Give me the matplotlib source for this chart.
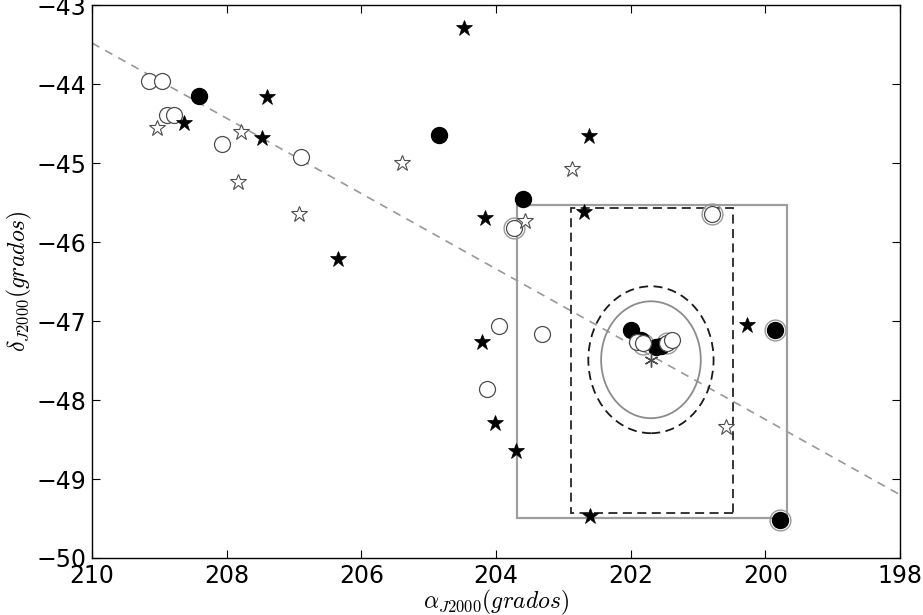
import matplotlib
matplotlib.use("Agg")
import matplotlib.pyplot as plt
from matplotlib.patches import Rectangle, Ellipse

plt.rcParams['mathtext.fontset'] = 'cm'

# Filled black circles
fc_ra = [208.41, 204.85, 203.60, 199.86, 199.78, 201.99, 201.85, 201.62, 201.55]
fc_dec = [-44.15, -44.65, -45.46, -47.11, -49.52, -47.11, -47.24, -47.33, -47.32]

# Open circles
oc_ra = [209.15, 208.96, 208.89, 208.78, 208.07, 206.90, 203.73, 200.79, 203.96, 203.32, 204.13,
         201.91, 201.82, 201.46, 201.39]
oc_dec = [-43.96, -43.96, -44.39, -44.39, -44.76, -44.92, -45.82, -45.65, -47.06, -47.16, -47.86,
          -47.27, -47.28, -47.28, -47.24]

# Gray rings (marked objects)
ring_ra = [203.73, 200.79, 199.86, 199.78, 201.82, 201.46]
ring_dec = [-45.82, -45.65, -47.11, -49.52, -47.29, -47.28]

# Filled stars
fs_ra = [204.47, 207.40, 208.63, 207.48, 202.62, 204.16, 202.69, 206.35, 204.21, 204.01, 203.70, 200.27, 202.60]
fs_dec = [-43.29, -44.16, -44.49, -44.68, -44.66, -45.70, -45.62, -46.22, -47.27, -48.29, -48.65, -47.05, -49.47]

# Open stars
os_ra = [209.03, 207.79, 207.83, 206.93, 205.40, 202.87, 203.57, 200.58]
os_dec = [-44.56, -44.61, -45.24, -45.65, -45.00, -45.08, -45.73, -48.34]

# Center marker
cen_ra = [201.70]
cen_dec = [-47.49]

# Plane line (endpoints)
line_ra = [210.0, 198.0]
line_dec = [-43.48, -49.20]

# Regions
box_ra = [203.69, 199.68]
box_dec = [-45.53, -49.49]
dbox_ra = [202.88, 200.48]
dbox_dec = [-45.57, -49.43]
circ_r = [0.74, 0.93]

fig = plt.figure(figsize=(9.23, 6.15), dpi=100)
ax = fig.add_axes([0.0997, 0.0927, 0.8755, 0.899])

ax.plot(line_ra, line_dec, color='0.6', ls=(0, (5, 4)), lw=1.2, zorder=1)

ax.add_patch(Rectangle((min(box_ra), min(box_dec)), abs(box_ra[0] - box_ra[1]),
                       abs(box_dec[0] - box_dec[1]), fill=False, ec='0.62', lw=1.6, zorder=2))
ax.add_patch(Rectangle((min(dbox_ra), min(dbox_dec)), abs(dbox_ra[0] - dbox_ra[1]),
                       abs(dbox_dec[0] - dbox_dec[1]), fill=False, ec='0.15', lw=1.3,
                       ls=(0, (5, 3)), zorder=2))
ax.add_patch(Ellipse((cen_ra[0], cen_dec[0]), 2 * circ_r[0], 2 * circ_r[0], fill=False,
                     ec='0.55', lw=1.3, zorder=2))
ax.add_patch(Ellipse((cen_ra[0], cen_dec[0]), 2 * circ_r[1], 2 * circ_r[1], fill=False,
                     ec='0.1', lw=1.3, ls=(0, (5, 3)), zorder=2))

ax.plot(ring_ra, ring_dec, 'o', ms=15, mfc='none', mec='0.6', mew=1.0, ls='none', zorder=3)
ax.plot(fc_ra, fc_dec, 'o', ms=11.5, mfc='black', mec='black', mew=1.0, ls='none', zorder=4)
ax.plot(oc_ra, oc_dec, 'o', ms=11.5, mfc='white', mec='0.3', mew=0.9, ls='none', zorder=5)
ax.plot(fs_ra, fs_dec, '*', ms=12, mfc='black', mec='black', mew=0.5, ls='none', zorder=5)
ax.plot(os_ra, os_dec, '*', ms=12, mfc='white', mec='0.3', mew=0.8, ls='none', zorder=5)
ax.plot(cen_ra, cen_dec, marker=(6, 2, 0), ms=10, color='0.3', mew=1.0, ls='none', zorder=6)

ax.set_xlim(210, 198)
ax.set_ylim(-50, -43)
ax.set_xticks([210, 208, 206, 204, 202, 200, 198])
ax.set_yticks([-50, -49, -48, -47, -46, -45, -44, -43])
ax.tick_params(direction='in', top=True, right=True, length=6, width=0.8, labelsize=17, pad=4)
for s in ax.spines.values():
    s.set_linewidth(1.0)

ax.set_xlabel(r'$\alpha_{J2000}(grados)$', fontsize=17, labelpad=0)
ax.set_ylabel(r'$\delta_{J2000}(grados)$', fontsize=17, labelpad=2)

fig.savefig('out.png', dpi=100)
